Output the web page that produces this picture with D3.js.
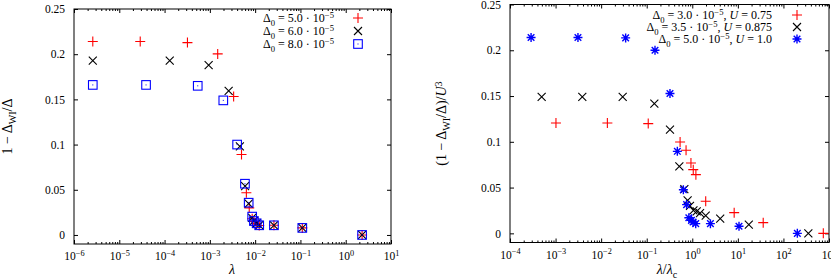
<!DOCTYPE html>
<html>
<head>
<meta charset="utf-8">
<script src="https://cdn.jsdelivr.net/npm/d3@7"></script>
<style>
  body { margin: 0; background: #fff; }
  svg { display: block; font-family: "Liberation Serif", "DejaVu Serif", serif; }
  svg text { font-family: "Liberation Serif", "DejaVu Serif", serif; }
  .tick line { stroke: #000; stroke-width: 1; }
</style>
</head>
<body>
<div id="chart"></div>
<script>
// left panel: 1 - Delta_WI/Delta vs lambda
var lamA = [2.6e-6, 2.9e-5, 3.2e-4, 1.49e-3, 3.35e-3, 5.0e-3, 6.4e-3, 7.4e-3, 8.6e-3, 9.4e-3, 0.0108, 0.0123, 0.026, 0.11, 2.3];
var gapA = [0.214, 0.214, 0.2128, 0.2003, 0.1532, 0.089, 0.0467, 0.030, 0.018, 0.015, 0.0125, 0.0105, 0.0107, 0.0078, 0.0];
var lamB = [2.6e-6, 1.3e-4, 9.4e-4, 2.6e-3, 4.6e-3, 6.0e-3, 7.2e-3, 8.6e-3, 9.4e-3, 0.0108, 0.0123, 0.026, 0.11, 2.3];
var gapB = [0.193, 0.193, 0.188, 0.1595, 0.098, 0.054, 0.0346, 0.019, 0.0155, 0.013, 0.011, 0.0107, 0.0078, 0.0];
var lamC = [2.6e-6, 3.9e-5, 5.4e-4, 1.98e-3, 4.0e-3, 5.96e-3, 7.2e-3, 8.6e-3, 9.4e-3, 0.0108, 0.0123, 0.026, 0.11, 2.3];
var gapC = [0.166, 0.166, 0.165, 0.1489, 0.100, 0.0567, 0.0357, 0.0203, 0.0154, 0.0129, 0.0107, 0.0107, 0.0078, 0.0];

// right panel: (1 - Delta_WI/Delta)/U^3 vs lambda/lambda_c
var ratD = [1.02e-3, 0.0137, 0.108, 0.54, 0.73, 0.935, 1.05, 1.2, 1.97, 8.3, 36, 750];
var gapD = [0.1205, 0.1205, 0.1199, 0.0998, 0.0907, 0.0768, 0.0696, 0.0641, 0.035, 0.0226, 0.0117, 0.0];
var ratE = [4.95e-4, 3.86e-3, 0.0297, 0.147, 0.324, 0.52, 0.67, 0.79, 0.89, 1.06, 1.25, 1.48, 1.97, 4.1, 17.4, 352];
var gapE = [0.149, 0.149, 0.149, 0.1417, 0.1133, 0.0732, 0.0484, 0.036, 0.0299, 0.0251, 0.024, 0.0222, 0.0193, 0.016, 0.0095, 0.0];
var ratF = [2.9e-4, 3.1e-3, 0.0345, 0.152, 0.324, 0.47, 0.637, 0.75, 0.84, 0.96, 1.04, 1.19, 2.5, 10.6, 202];
var gapF = [0.2139, 0.2139, 0.2135, 0.200, 0.1527, 0.0896, 0.0477, 0.0314, 0.0170, 0.0142, 0.0124, 0.0106, 0.0106, 0.0077, 0.0];

var yTicks = [0, 0.05, 0.1, 0.15, 0.2, 0.25];
var leftExps = [-6, -5, -4, -3, -2, -1, 0, 1];
var rightExps = [-4, -3, -2, -1, 0, 1, 2, 3];

var legendLeft = [
  [["Δ", "n"], ["0", "sub"], [" = 5.0 · 10", "n"], ["−5", "sup"]],
  [["Δ", "n"], ["0", "sub"], [" = 6.0 · 10", "n"], ["−5", "sup"]],
  [["Δ", "n"], ["0", "sub"], [" = 8.0 · 10", "n"], ["−5", "sup"]]
];
var legendRight = [
  [["Δ", "n"], ["0", "sub"], [" = 3.0 · 10", "n"], ["−5", "sup"], [", ", "n"], ["U", "it"], [" = 0.75", "n"]],
  [["Δ", "n"], ["0", "sub"], [" = 3.5 · 10", "n"], ["−5", "sup"], [", ", "n"], ["U", "it"], [" = 0.875", "n"]],
  [["Δ", "n"], ["0", "sub"], [" = 5.0 · 10", "n"], ["−5", "sup"], [", ", "n"], ["U", "it"], [" = 1.0", "n"]]
];

const w = 831;
const h = 280;

const svg = d3.select("#chart").append("svg")
  .attr("width", w)
  .attr("height", h);

// writes a text made of normal / sub / sup / italic pieces (relative shifts only)
function rich(txt, parts) {
  var shift = 0;
  parts.forEach(function (p) {
    var target = 0;
    if (p[1] == "sub") target = 3.5;
    if (p[1] == "sup") target = -4.5;
    var ts = txt.append("tspan").text(p[0]);
    if (target - shift != 0) ts.attr("dy", target - shift);
    if (p[1] == "sub" || p[1] == "sup") ts.attr("font-size", "0.72em");
    if (p[1] == "it") ts.attr("font-style", "italic");
    shift = target;
  });
}

function marker(g, type, color) {
  if (type == "plus") {
    g.append("path").attr("d", "M-5,0H5M0,-5V5").attr("stroke", color).attr("stroke-width", 1.1).attr("fill", "none");
  } else if (type == "cross") {
    g.append("path").attr("d", "M-4,-4L4,4M-4,4L4,-4").attr("stroke", color).attr("stroke-width", 1.1).attr("fill", "none");
  } else if (type == "square") {
    g.append("rect").attr("x", -4.3).attr("y", -4.3).attr("width", 8.6).attr("height", 8.6)
      .attr("stroke", color).attr("stroke-width", 1.1).attr("fill", "none");
    g.append("rect").attr("x", -0.5).attr("y", -0.5).attr("width", 1).attr("height", 1).attr("fill", color);
  } else if (type == "star") {
    g.append("path").attr("d", "M-4.5,0H4.5M0,-4.5V4.5M-3.3,-3.3L3.3,3.3M-3.3,3.3L3.3,-3.3")
      .attr("stroke", color).attr("stroke-width", 1.4).attr("fill", "none");
  }
}

function minorTicks(exps) {
  var out = [];
  for (var i = 0; i < exps.length - 1; i++) {
    for (var k = 2; k <= 9; k++) out.push(k * Math.pow(10, exps[i]));
  }
  return out;
}

function panel(cfg) {
  const x = d3.scaleLog().domain(cfg.xDomain).range([cfg.x0, cfg.x1]);
  const y = d3.scaleLinear().domain([-0.01, 0.25]).range([cfg.y1, cfg.y0]);
  const major = cfg.exps.map(e => Math.pow(10, e));
  const minor = minorTicks(cfg.exps);

  const g = svg.append("g");

  // bottom / top major and minor ticks
  g.append("g").attr("transform", "translate(0," + cfg.y1 + ")")
    .call(d3.axisBottom(x).tickValues(minor).tickSize(-2).tickFormat(""));
  g.append("g").attr("transform", "translate(0," + cfg.y0 + ")")
    .call(d3.axisTop(x).tickValues(minor).tickSize(-2).tickFormat(""));
  g.append("g").attr("transform", "translate(0," + cfg.y0 + ")")
    .call(d3.axisTop(x).tickValues(major).tickSize(-4).tickFormat(""));
  var bx = g.append("g").attr("transform", "translate(0," + cfg.y1 + ")")
    .call(d3.axisBottom(x).tickValues(major).tickSize(-4).tickFormat(""));
  bx.selectAll(".tick text").each(function (d) {
    var t = d3.select(this).attr("font-size", 11.5).attr("fill", "#000").attr("dy", null).attr("y", cfg.xLabBase);
    rich(t, [["10", "n"], [String(Math.round(Math.log10(d))).replace("-", "−"), "sup"]]);
  });

  // left / right y ticks
  var ly = g.append("g").attr("transform", "translate(" + cfg.x0 + ",0)")
    .call(d3.axisLeft(y).tickValues(yTicks).tickSize(-4).tickPadding(9).tickFormat(d => String(d)));
  ly.selectAll(".tick text").attr("font-size", 11.5).attr("fill", "#000");
  g.append("g").attr("transform", "translate(" + cfg.x1 + ",0)")
    .call(d3.axisRight(y).tickValues(yTicks).tickSize(-4).tickFormat(""));
  g.selectAll(".domain").remove();
  g.selectAll("g").attr("font-family", null).attr("font-size", null);

  // frame
  g.append("rect").attr("x", cfg.x0).attr("y", cfg.y0)
    .attr("width", cfg.x1 - cfg.x0).attr("height", cfg.y1 - cfg.y0)
    .attr("fill", "none").attr("stroke", "#000").attr("stroke-width", 1);

  // series
  cfg.series.forEach(function (s) {
    g.append("g").selectAll("g").data(s.xs).enter().append("g")
      .attr("transform", (d, i) => "translate(" + x(d) + "," + y(s.ys[i]) + ")")
      .each(function () { marker(d3.select(this), s.type, s.color); });
  });

  // legend
  cfg.legend.forEach(function (parts, i) {
    var yy = cfg.legY + i * cfg.legStep;
    var t = g.append("text")
      .attr("x", cfg.legX).attr("y", yy + 4).attr("text-anchor", "end").attr("font-size", 12);
    rich(t, parts);
    var s = cfg.series[i];
    marker(g.append("g").attr("transform", "translate(" + cfg.legM + "," + yy + ")"), s.type, s.color);
  });

  // axis titles
  var xt = g.append("text").attr("x", cfg.xLabX).attr("y", 274).attr("text-anchor", "middle").attr("font-size", 14);
  rich(xt, cfg.xLabel);
  var yt = g.append("text").attr("transform", "translate(" + cfg.yLabX + "," + ((cfg.y0 + cfg.y1) / 2) + ") rotate(-90)")
    .attr("text-anchor", "middle").attr("font-size", 14);
  rich(yt, cfg.yLabel);
}

panel({
  x0: 74, x1: 391, y0: 9, y1: 244, xLabBase: 16,
  xDomain: [1e-6, 10], exps: leftExps,
  series: [
    { xs: lamA, ys: gapA, type: "plus", color: "#ff0000" },
    { xs: lamB, ys: gapB, type: "cross", color: "#000000" },
    { xs: lamC, ys: gapC, type: "square", color: "#0000ff" }
  ],
  legend: legendLeft, legX: 334, legM: 358, legY: 18, legStep: 13,
  xLabX: 232, xLabel: [["λ", "it"]],
  yLabX: 12, yLabel: [["1 − Δ", "n"], ["WI", "sub"], ["/Δ", "n"]]
});

panel({
  x0: 510, x1: 829, y0: 4.5, y1: 242.5, xLabBase: 16,
  xDomain: [1e-4, 1e3], exps: rightExps,
  series: [
    { xs: ratD, ys: gapD, type: "plus", color: "#ff0000" },
    { xs: ratE, ys: gapE, type: "cross", color: "#000000" },
    { xs: ratF, ys: gapF, type: "star", color: "#0000ff" }
  ],
  legend: legendRight, legX: 772, legM: 797, legY: 15, legStep: 12,
  xLabX: 667, xLabel: [["λ", "it"], ["/", "n"], ["λ", "it"], ["c", "sub"]],
  yLabX: 446, yLabel: [["(1 − Δ", "n"], ["WI", "sub"], ["/Δ)/", "n"], ["U", "it"], ["3", "sup"]]
});
</script>
</body>
</html>
